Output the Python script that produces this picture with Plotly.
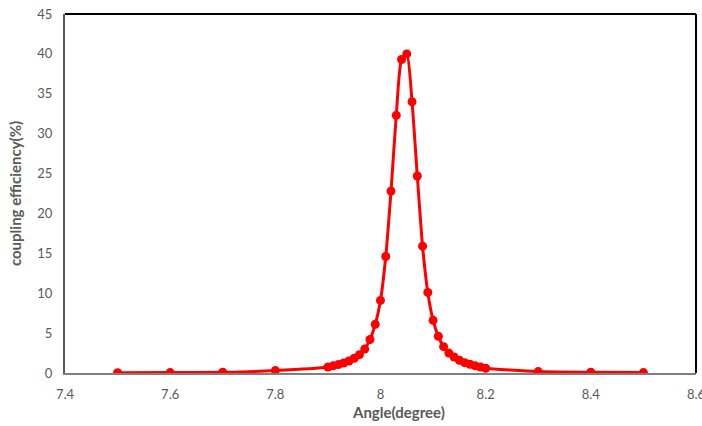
import plotly.graph_objects as go

angle = [7.5, 7.6, 7.7, 7.8, 7.9, 7.91, 7.92, 7.93, 7.94, 7.95, 7.96, 7.97, 7.98, 7.99,
         8.00, 8.01, 8.02, 8.03, 8.04, 8.05, 8.06, 8.07, 8.08, 8.09, 8.10, 8.11, 8.12,
         8.13, 8.14, 8.15, 8.16, 8.17, 8.18, 8.19, 8.20, 8.3, 8.4, 8.5]
efficiency = [0.03, 0.05, 0.1, 0.3, 0.75, 0.9, 1.05, 1.25, 1.5, 1.85, 2.3, 3.0, 4.2, 6.1,
              9.1, 14.6, 22.8, 32.3, 39.3, 40.0, 34.0, 24.7, 15.9, 10.1, 6.6, 4.6, 3.3,
              2.5, 2.0, 1.6, 1.3, 1.1, 0.9, 0.75, 0.6, 0.18, 0.09, 0.05]

x_ticks = [7.4, 7.6, 7.8, 8.0, 8.2, 8.4, 8.6]
x_tick_labels = ["7.4", "7.6", "7.8", "8", "8.2", "8.4", "8.6"]
y_ticks = [0, 5, 10, 15, 20, 25, 30, 35, 40, 45]

FONT = "Lato, 'Open Sans', sans-serif"
GRAY = "#595959"

fig = go.Figure()
fig.add_trace(go.Scatter(
    x=angle, y=efficiency, mode="lines+markers",
    line=dict(color="#ff0000", width=3, shape="spline", smoothing=0.6),
    marker=dict(color="#ff0000", size=9),
    showlegend=False,
))

fig.update_layout(
    width=702, height=426,
    margin=dict(l=65, r=6, t=14, b=53),
    paper_bgcolor="white", plot_bgcolor="white",
    font=dict(family=FONT, color=GRAY, size=13),
    xaxis=dict(range=[7.4, 8.6], tickvals=x_ticks, ticktext=x_tick_labels,
               showgrid=False, zeroline=False, showline=True, linecolor="#7f7f7f",
               linewidth=2, ticks="", ticklabelstandoff=8, ticklabeloverflow="allow",
               automargin=False,
               tickfont=dict(family=FONT, color=GRAY, size=13)),
    yaxis=dict(range=[0, 45], tickvals=y_ticks,
               showgrid=False, zeroline=False, showline=True, linecolor="#595959",
               linewidth=2, ticks="", ticklabelstandoff=8, automargin=False,
               tickfont=dict(family=FONT, color=GRAY, size=13),
               title=dict(text="<b>coupling efficiency(%)</b>",
                          font=dict(family=FONT, color=GRAY, size=15), standoff=12)),
    shapes=[
        dict(type="line", xref="paper", yref="paper", x0=0, x1=1, y0=1, y1=1,
             line=dict(color="black", width=2)),
        dict(type="line", xref="paper", yref="paper", x0=1, x1=1, y0=0, y1=1,
             line=dict(color="black", width=2)),
    ],
    annotations=[
        dict(text="<b>Angle(degree)</b>", xref="paper", yref="paper",
             x=(398 - 65) / (702 - 65 - 6), y=-(412 - 373) / 359,
             xanchor="center", yanchor="middle",
             showarrow=False, font=dict(family=FONT, color=GRAY, size=15)),
    ],
)

fig.write_html("out.html")
